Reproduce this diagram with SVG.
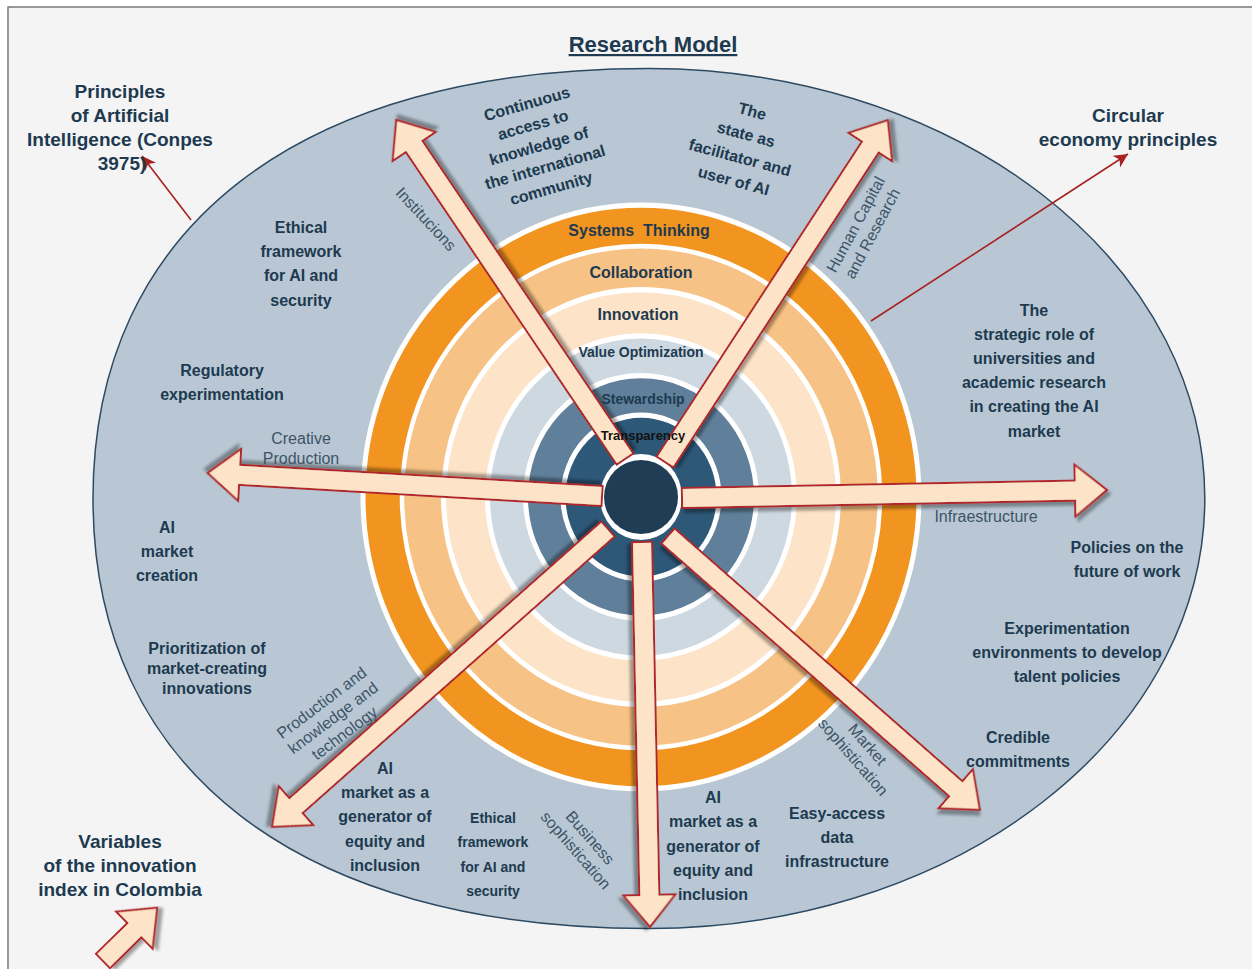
<svg xmlns="http://www.w3.org/2000/svg" width="1252" height="969" viewBox="0 0 1252 969">
<defs>
<style>
.b{font-family:"Liberation Sans",Arial,sans-serif;font-weight:bold;fill:#1d3a50;text-anchor:middle;font-size:16px}
.r{font-family:"Liberation Sans",Arial,sans-serif;fill:#3d5468;text-anchor:middle;font-size:16px}
.o{font-size:19px}
.ring{font-family:"Liberation Sans",Arial,sans-serif;font-weight:bold;fill:#1d3a50;text-anchor:middle}
.arr{fill:#fde4c8;stroke:#b0282a;stroke-width:2;stroke-linejoin:miter;filter:url(#sh)}
.thin{stroke:#a82222;stroke-width:1.6;fill:none;marker-end:url(#mk)}
</style>
<filter id="sh" x="-20%" y="-20%" width="140%" height="140%">
<feDropShadow dx="3" dy="4" stdDeviation="1.5" flood-color="#000" flood-opacity="0.35"/>
</filter>
<marker id="mk" markerUnits="userSpaceOnUse" markerWidth="16" markerHeight="14" refX="14" refY="7" orient="auto">
<path d="M0,0 L14,7 L0,14 L4,7 Z" fill="#a82222"/>
</marker>
</defs>
<rect x="8" y="7" width="1270" height="990" fill="#f4f4f4" stroke="#7a7a7a" stroke-width="1.5"/>
<text x="653" y="52" class="b" style="font-size:22px" text-decoration="underline">Research Model</text>

<g id="big-ellipse">
<path d="M649,68.5 A556,430 0 0 1 649,928.5 C298.7,928.5 93,769.4 93,498.5 C93,227.6 298.7,68.5 649,68.5 Z" fill="#b8c7d3" stroke="#2d4a63" stroke-width="1.5"/>
</g>

<g id="connectors">
<line class="thin" x1="191" y1="220" x2="142" y2="156"/>
<line class="thin" x1="871" y1="321" x2="1128" y2="154"/>
</g>

<g id="rings" transform="translate(641,497) scale(1,1.05)">
<circle r="278" fill="#f29420" stroke="#ffffff" stroke-width="5"/>
<circle r="239" fill="#f7c285" stroke="#ffffff" stroke-width="4.5"/>
<circle r="197.5" fill="#fde4c8" stroke="#ffffff" stroke-width="5"/>
<circle r="153.5" fill="#cdd8e1" stroke="#ffffff" stroke-width="5"/>
<circle r="115.5" fill="#5f7f9a" stroke="#ffffff" stroke-width="5"/>
<circle r="78" fill="#2d5878" stroke="#ffffff" stroke-width="5"/>
<circle r="41" fill="#ffffff"/>
</g>

<g id="arrows">
<path class="arr" transform="translate(625,459) rotate(-124)" d="M0,-10 H377 V-26 L409,0 L377,26 V10 H0 Z"/>
<path class="arr" transform="translate(665,462) rotate(-56.9)" d="M0,-10 H376 V-26 L408,0 L376,26 V10 H0 Z"/>
<path class="arr" transform="translate(602,496) rotate(-176.66)" d="M0,-10 H363 V-26 L395,0 L363,26 V10 H0 Z"/>
<path class="arr" transform="translate(682,498) rotate(-1.08)" d="M0,-10 H393 V-26 L425,0 L393,26 V10 H0 Z"/>
<path class="arr" transform="translate(608,529) rotate(138.44)" d="M0,-10 H417 V-26 L449,0 L417,26 V10 H0 Z"/>
<path class="arr" transform="translate(642,542) rotate(88.81)" d="M0,-10 H353 V-26 L385,0 L353,26 V10 H0 Z"/>
<path class="arr" transform="translate(668,536) rotate(41.29)" d="M0,-10 H383 V-26 L415,0 L383,26 V10 H0 Z"/>
<path class="arr" transform="translate(103,961) rotate(-44.5)" d="M0,-10 H44 V-26 L76,0 L44,26 V10 H0 Z"/>
</g>

<g id="center">
<circle cx="641" cy="497" r="37" fill="#203d55"/>
</g>

<g id="ring-labels">
<text class="ring" x="639" y="236" style="font-size:16px">Systems&#160; Thinking</text>
<text class="ring" x="641" y="278" style="font-size:16px">Collaboration</text>
<text class="ring" x="638" y="320" style="font-size:16px">Innovation</text>
<text class="ring" x="641" y="357" style="font-size:14px">Value Optimization</text>
<text class="ring" x="643" y="404" style="font-size:14px">Stewardship</text>
<text class="ring" x="643" y="440" style="font-size:13px;fill:#111">Transparency</text>
</g>

<g id="outer-principles">
<text class="b o"><tspan x="120" y="98">Principles</tspan><tspan x="120" y="122">of Artificial</tspan><tspan x="120" y="146">Intelligence (Conpes</tspan><tspan x="122" y="170">3975)</tspan></text>
</g>
<g id="outer-circular">
<text class="b o"><tspan x="1128" y="122">Circular</tspan><tspan x="1128" y="146">economy principles</tspan></text>
</g>
<g id="outer-variables">
<text class="b o"><tspan x="120" y="848">Variables</tspan><tspan x="120" y="872">of the innovation</tspan><tspan x="120" y="896">index in Colombia</tspan></text>
</g>

<g id="n-continuous">
<text class="b" transform="rotate(-16 539 146)"><tspan x="539" y="107.5">Continuous</tspan><tspan x="539" y="129.5">access to</tspan><tspan x="539" y="151.5">knowledge of</tspan><tspan x="539" y="173.5">the international</tspan><tspan x="539" y="195.5">community</tspan></text>
</g>
<g id="n-state">
<text class="b" transform="rotate(15 743 146)"><tspan x="743" y="115.5">The</tspan><tspan x="743" y="139.5">state as</tspan><tspan x="743" y="163.5">facilitator and</tspan><tspan x="743" y="187.5">user of AI</tspan></text>
</g>
<g id="n-ethical">
<text class="b"><tspan x="301" y="233">Ethical</tspan><tspan x="301" y="257">framework</tspan><tspan x="301" y="281">for AI and</tspan><tspan x="301" y="306">security</tspan></text>
</g>
<g id="n-regulatory">
<text class="b"><tspan x="222" y="376">Regulatory</tspan><tspan x="222" y="400">experimentation</tspan></text>
</g>
<g id="n-aimarket">
<text class="b"><tspan x="167" y="533">AI</tspan><tspan x="167" y="557">market</tspan><tspan x="167" y="581">creation</tspan></text>
</g>
<g id="n-prioritization">
<text class="b"><tspan x="207" y="654">Prioritization of</tspan><tspan x="207" y="674">market-creating</tspan><tspan x="207" y="694">innovations</tspan></text>
</g>
<g id="n-strategic">
<text class="b"><tspan x="1034" y="316">The</tspan><tspan x="1034" y="340">strategic role of</tspan><tspan x="1034" y="364">universities and</tspan><tspan x="1034" y="388">academic research</tspan><tspan x="1034" y="412">in creating the AI</tspan><tspan x="1034" y="437">market</tspan></text>
</g>
<g id="n-policies">
<text class="b"><tspan x="1127" y="553">Policies on the</tspan><tspan x="1127" y="577">future of work</tspan></text>
</g>
<g id="n-experimentation">
<text class="b"><tspan x="1067" y="634">Experimentation</tspan><tspan x="1067" y="658">environments to develop</tspan><tspan x="1067" y="682">talent policies</tspan></text>
</g>
<g id="n-credible">
<text class="b"><tspan x="1018" y="743">Credible</tspan><tspan x="1018" y="767">commitments</tspan></text>
</g>
<g id="n-easy">
<text class="b"><tspan x="837" y="819">Easy-access</tspan><tspan x="837" y="843">data</tspan><tspan x="837" y="867">infrastructure</tspan></text>
</g>
<g id="n-equity-center">
<text class="b"><tspan x="713" y="803">AI</tspan><tspan x="713" y="827">market as a</tspan><tspan x="713" y="852">generator of</tspan><tspan x="713" y="876">equity and</tspan><tspan x="713" y="900">inclusion</tspan></text>
</g>
<g id="n-ethical-small">
<text class="b" style="font-size:14px"><tspan x="493" y="823">Ethical</tspan><tspan x="493" y="847">framework</tspan><tspan x="493" y="872">for AI and</tspan><tspan x="493" y="896">security</tspan></text>
</g>
<g id="n-equity-left">
<text class="b"><tspan x="385" y="774">AI</tspan><tspan x="385" y="798">market as a</tspan><tspan x="385" y="822">generator of</tspan><tspan x="385" y="847">equity and</tspan><tspan x="385" y="871">inclusion</tspan></text>
</g>

<g id="arrow-labels">
<text class="r" transform="rotate(47 426 219)" x="426" y="224.5">Institucions</text>
<text class="r" transform="rotate(-62 864 229)"><tspan x="864" y="225">Human Capital</tspan><tspan x="864" y="244">and Research</tspan></text>
<text class="r"><tspan x="301" y="444">Creative</tspan><tspan x="301" y="464">Production</tspan></text>
<text class="r" x="986" y="522">Infraestructure</text>
<text class="r" transform="rotate(-37 333 718)"><tspan x="333" y="704.5">Production and</tspan><tspan x="333" y="723.5">knowledge and</tspan><tspan x="333" y="742.5">technology</tspan></text>
<text class="r" transform="rotate(49 583 844)"><tspan x="583" y="840">Business</tspan><tspan x="583" y="859">sophistication</tspan></text>
<text class="r" transform="rotate(49 860 751)"><tspan x="860" y="746.5">Market</tspan><tspan x="860" y="765.5">sophistication</tspan></text>
</g>
</svg>
